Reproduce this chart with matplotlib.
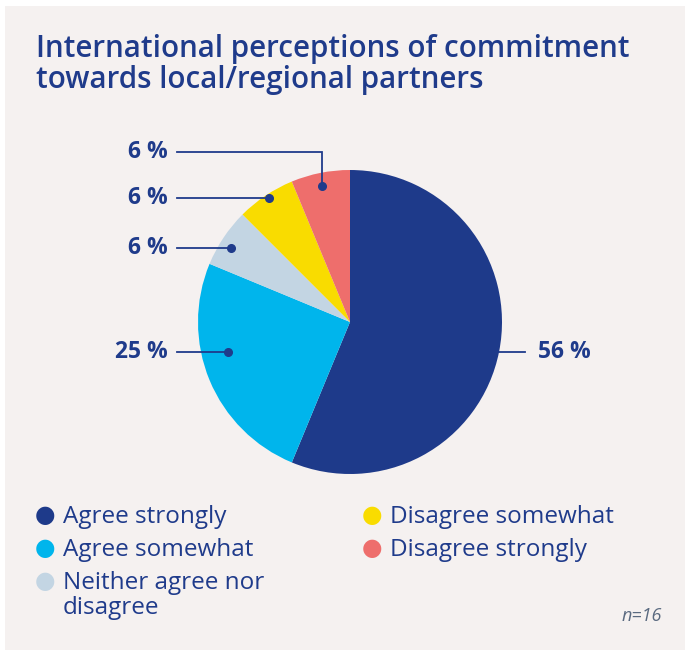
import matplotlib.pyplot as plt
import numpy as np
from matplotlib.patches import Rectangle

# survey responses (n=16), clockwise from 12 o'clock
categories = ['Agree strongly', 'Agree somewhat', 'Neither agree nor\ndisagree',
              'Disagree somewhat', 'Disagree strongly']
counts = [9, 4, 1, 1, 1]
colors = ['#1e3a8a', '#00b5ec', '#c3d5e3', '#f9dc00', '#ee6e6c']
n_total = 16
title_lines = ['International perceptions of commitment', 'towards local/regional partners']

navy = '#1f3b8b'
bg = '#f5f1f0'
W, H = 686, 650

plt.rcParams['font.family'] = ['Open Sans', 'DejaVu Sans']

fig = plt.figure(figsize=(W / 100, H / 100), dpi=100)
fig.patch.set_facecolor('white')
fig.add_artist(Rectangle((5 / W, 0), 680 / W, 644 / H, transform=fig.transFigure,
                         facecolor=bg, edgecolor='none', zorder=0))

for k, line in enumerate(title_lines):
    fig.text(36 / W, 1 - (57 + 31 * k) / H, line, color=navy, fontsize=21.3,
             fontweight='semibold', va='baseline')

# pie centred at (350, 322) px with radius 152 px
cx, cy, r = 350, 322, 152
ax = fig.add_axes([(cx - r) / W, 1 - (cy + r) / H, 2 * r / W, 2 * r / H])
ax.set_facecolor('none')
wedges, _ = ax.pie(counts, colors=colors, startangle=90, counterclock=False,
                   wedgeprops=dict(linewidth=0))
ax.set_xlim(-1, 1)
ax.set_ylim(-1, 1)
ax.set_aspect('equal')
ax.axis('off')

pct = [round(100 * c / n_total) for c in counts]

# leader layout: label height (data units) and anchor dot for each slice
line_x = -1.138
label_x = -1.20
leaders = {
    4: (1.118, (-0.184, 0.895), True),    # Disagree strongly, elbow down
    3: (0.816, (-0.533, 0.816), False),   # Disagree somewhat
    2: (0.487, (-0.783, 0.487), False),   # Neither
    1: (-0.197, (-0.803, -0.197), False), # Agree somewhat
}
for i, (ly, (dx, dy), elbow) in leaders.items():
    if elbow:
        ax.plot([line_x, dx, dx], [ly, ly, dy], color=navy, lw=1.3, clip_on=False,
                solid_joinstyle='miter')
    else:
        ax.plot([line_x, dx], [ly, dy], color=navy, lw=1.3, clip_on=False)
    ax.plot(dx, dy, 'o', color=navy, ms=5.5, clip_on=False)
    ax.text(label_x, ly, f'{pct[i]} %', color=navy, fontsize=16.5, fontweight='bold',
            ha='right', va='center', clip_on=False)

# largest slice: short line to the right
ax.plot([0.98, 1.151], [-0.197, -0.197], color=navy, lw=1.3, clip_on=False)
ax.text(1.237, -0.197, f'{pct[0]} %', color=navy, fontsize=16.5, fontweight='bold',
        ha='left', va='center', clip_on=False)

# legend in two columns
legend_pos = [(45, 515), (45, 548), (45, 581), (372, 515), (372, 548)]
for (px, py), lab, col in zip(legend_pos, categories, colors):
    fig.text(px / W, 1 - py / H, '\u25cf', color=col, fontsize=17, ha='center', va='center',
             family='DejaVu Sans')
    for k, part in enumerate(lab.split('\n')):
        fig.text((px + 18) / W, 1 - (py + 8 + 25 * k) / H, part, color=navy,
                 fontsize=17.5, va='baseline')

fig.text(662 / W, 1 - 621 / H, f'n={n_total}', color='#5a6a80', fontsize=13,
         style='italic', ha='right', va='baseline')

fig.savefig('out.png', dpi=100, facecolor=fig.get_facecolor())
